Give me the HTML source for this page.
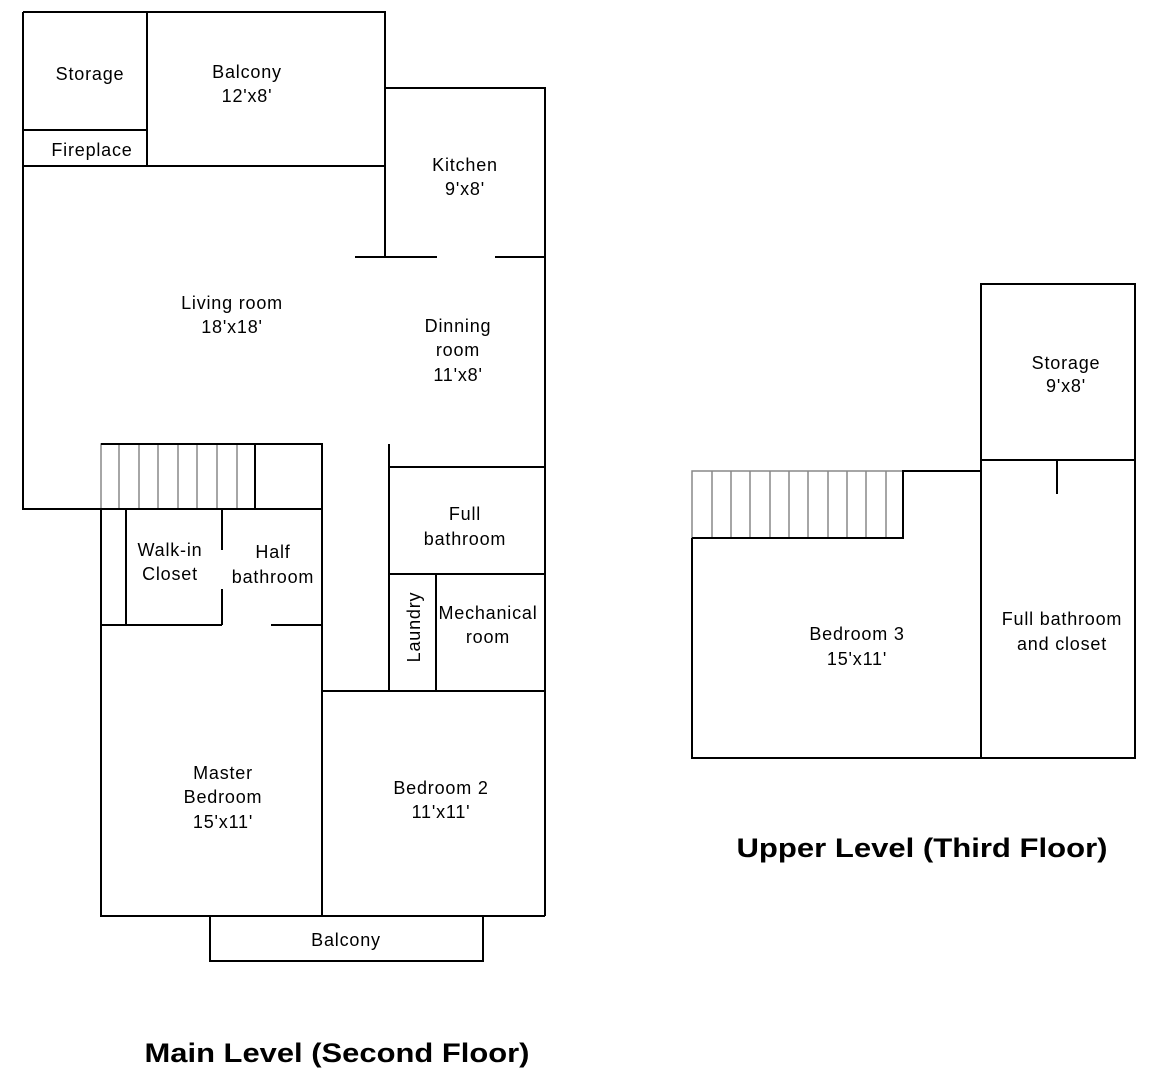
<!DOCTYPE html>
<html><head><style>
html,body{margin:0;padding:0;background:#fff}
svg{display:block}
text{font-family:"Liberation Sans",Arial,sans-serif;font-size:18px;fill:#000;text-anchor:middle;letter-spacing:0.8px}
.t{font-weight:bold;font-size:27px;letter-spacing:0}
</style></head><body>
<svg width="1151" height="1080" viewBox="0 0 1151 1080" xmlns="http://www.w3.org/2000/svg">
<g stroke="#888" stroke-width="1.5" fill="none">
<rect x="101" y="444" width="154" height="65"/>
<path d="M119 444V509M139 444V509M158 444V509M178 444V509M197 444V509M217 444V509M237 444V509"/>
<rect x="692" y="471" width="211" height="67"/>
<path d="M712 471V538M731 471V538M750 471V538M770 471V538M789 471V538M808 471V538M828 471V538M847 471V538M866 471V538M886 471V538"/>
</g>
<g stroke="#000" stroke-width="2" fill="none">
<path d="M23 12H385V257M23 12V509H322M147 12V166M23 130H147M23 166H385"/>
<path d="M385 88H545V916M355 257H437M495 257H545"/>
<path d="M101 444H322V916M255 444V509"/>
<path d="M101 509V916H545M126 509V625M101 625H222M222 509V550M222 589V625M271 625H322"/>
<path d="M389 444V691M389 467H545M389 574H545M436 574V691M322 691H545"/>
<rect x="210" y="916" width="273" height="45"/>
<path d="M692 538H903V471H981M692 538V758H1135V284H981V758M981 460H1135M1057 460V494"/>
</g>
<text x="90" y="80">Storage</text>
<text x="92" y="156">Fireplace</text>
<text x="247" y="78">Balcony</text><text x="247" y="102">12'x8'</text>
<text x="465" y="171">Kitchen</text><text x="465" y="195">9'x8'</text>
<text x="232" y="309">Living room</text><text x="232" y="333">18'x18'</text>
<text x="458" y="332">Dinning</text><text x="458" y="356">room</text><text x="458" y="381">11'x8'</text>
<text x="465" y="520">Full</text><text x="465" y="545">bathroom</text>
<text x="170" y="556">Walk-in</text><text x="170" y="580">Closet</text>
<text x="273" y="558">Half</text><text x="273" y="583">bathroom</text>
<text x="488" y="619">Mechanical</text><text x="488" y="643">room</text>
<text transform="translate(420,627) rotate(-90)">Laundry</text>
<text x="223" y="779">Master</text><text x="223" y="803">Bedroom</text><text x="223" y="828">15'x11'</text>
<text x="441" y="794">Bedroom 2</text><text x="441" y="818">11'x11'</text>
<text x="346" y="946">Balcony</text>
<text x="1066" y="369">Storage</text><text x="1066" y="392">9'x8'</text>
<text x="857" y="640">Bedroom 3</text><text x="857" y="665">15'x11'</text>
<text x="1062" y="625">Full bathroom</text><text x="1062" y="650">and closet</text>
<text class="t" x="922" y="857" textLength="371" lengthAdjust="spacingAndGlyphs">Upper Level (Third Floor)</text>
<text class="t" x="337" y="1062" textLength="385" lengthAdjust="spacingAndGlyphs">Main Level (Second Floor)</text>
</svg>
</body></html>
